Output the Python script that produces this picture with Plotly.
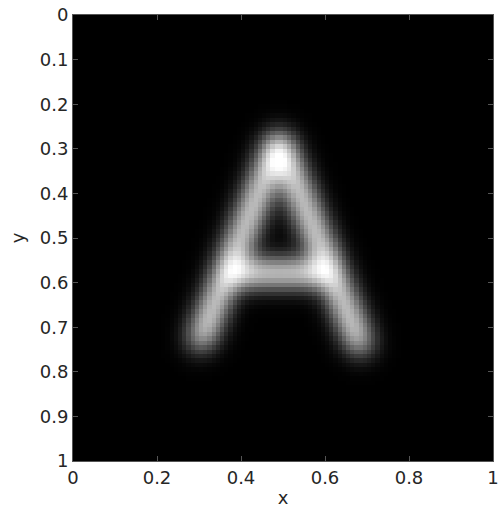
import numpy as np
import plotly.graph_objects as go

# Letter "A" strokes (data coordinates): start and end points
stroke_x0 = [0.302, 0.490, 0.366]
stroke_y0 = [0.732, 0.282, 0.578]
stroke_x1 = [0.490, 0.686, 0.616]
stroke_y1 = [0.282, 0.742, 0.578]

n_cells = 100
x_ticks = [0, 0.2, 0.4, 0.6, 0.8, 1]
y_ticks = [0, 0.1, 0.2, 0.3, 0.4, 0.5, 0.6, 0.7, 0.8, 0.9, 1]

# fine raster of the strokes, then gaussian blur, then downsample
fine = 400
fx = (np.arange(fine) + 0.5) / fine
FX, FY = np.meshgrid(fx, fx)
aspect = 446 / 420

def seg_dist(px, py, ax, ay, bx, by):
    ay_, by_, py_ = ay * aspect, by * aspect, py * aspect
    dx, dy = bx - ax, by_ - ay_
    t = ((px - ax) * dx + (py_ - ay_) * dy) / (dx * dx + dy * dy)
    t = np.clip(t, 0, 1)
    cx, cy = ax + t * dx, ay_ + t * dy
    return np.sqrt((px - cx) ** 2 + (py_ - cy) ** 2)

D = np.full(FX.shape, 10.0)
for a, b, c, d in zip(stroke_x0, stroke_y0, stroke_x1, stroke_y1):
    D = np.minimum(D, seg_dist(FX, FY, a, b, c, d))
M = (D < 0.015).astype(float)

def gauss_matrix(n, sigma):
    idx = np.arange(n)
    K = np.exp(-((idx[:, None] - idx[None, :]) ** 2) / (2 * sigma ** 2))
    return K / K.sum(axis=1, keepdims=True)

sig = 0.029 * fine
Kx = gauss_matrix(fine, sig)
Ky = gauss_matrix(fine, sig / aspect)
B = Ky @ M @ Kx.T
f = fine // n_cells
Z = B.reshape(n_cells, f, n_cells, f).mean(axis=(1, 3))

xs = (np.arange(n_cells) + 0.5) / n_cells
ys = xs.copy()

fig = go.Figure(go.Heatmap(
    x=xs, y=ys, z=Z,
    colorscale=[[0, "black"], [1, "white"]],
    zmin=0, zmax=float(Z.max()) * 0.95, showscale=False, hoverinfo="skip",
))

font_t = dict(family="DejaVu Sans", size=18, color="#262626")
axis_common = dict(
    showgrid=False, zeroline=False, showline=True, mirror="ticks",
    linecolor="#555555", linewidth=1, ticks="inside", ticklen=5,
    tickcolor="#555555", tickfont=font_t, automargin=False,
    ticklabeloverflow="allow",
)
fig.update_layout(
    width=500, height=515, autosize=False,
    margin=dict(l=73, r=7, t=15, b=54),
    paper_bgcolor="white", plot_bgcolor="black",
    xaxis=dict(range=[0, 1], tickvals=x_ticks, ticktext=[f"{v:g}" for v in x_ticks],
               title=dict(text="x", font=font_t, standoff=4),
               **axis_common),
    yaxis=dict(range=[1, 0], tickvals=y_ticks, ticktext=[f"{v:g}" for v in y_ticks],
               title=dict(text="y", font=font_t, standoff=10),
               **axis_common),
)
fig.write_html(
    "out.html",
    config={"displayModeBar": False},
    post_script="document.body.style.margin='0';document.body.style.overflow='hidden';",
)
